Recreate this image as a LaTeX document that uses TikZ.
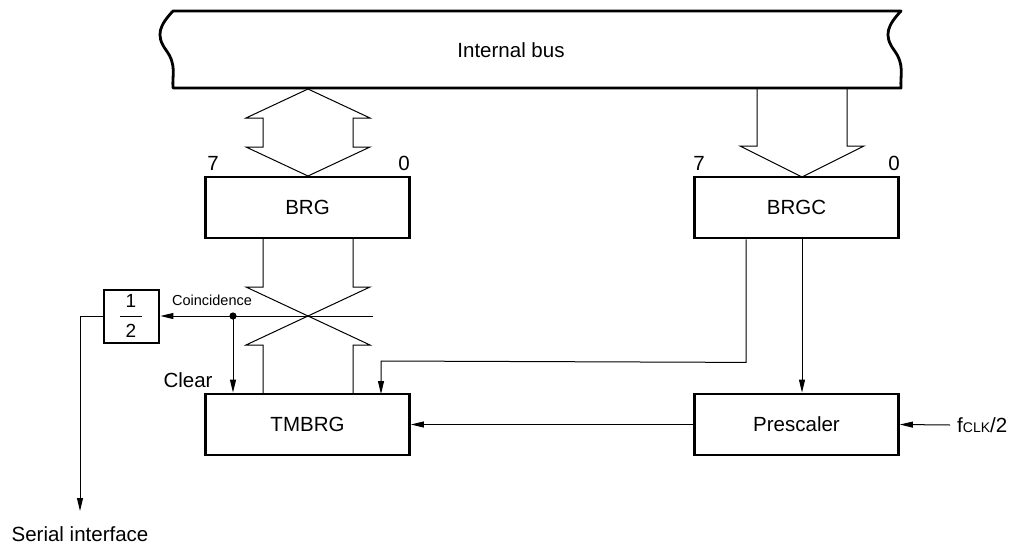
\documentclass[tikz,border=0pt]{standalone}
\usepackage{fontspec}
\setmainfont{Liberation Sans}
\usetikzlibrary{arrows.meta,calc}
\begin{document}
\begin{tikzpicture}[x=1pt,y=-1pt,
  box/.style={draw,line width=2.8pt,minimum width=204pt,minimum height=61pt,inner sep=0pt,font=\fontsize{20.5}{24}\selectfont},
  thinline/.style={line width=1pt},
  arr/.style={thinline,-{Triangle[length=13pt,width=6pt]}},
  lbl/.style={inner sep=0pt,font=\fontsize{20.5}{24}\selectfont},
  small/.style={inner sep=0pt,font=\fontsize{14.5}{16}\selectfont},
  ]
\useasboundingbox (0,0) rectangle (1012,544);

% internal bus
\draw[line width=2.8pt,line join=round]
  (173,11) -- (901,11)
  .. controls (888,25) and (883,35) .. (894,50)
  .. controls (905,65) and (900,75) .. (901,88)
  -- (173,88)
  .. controls (172,75) and (177,65) .. (166,50)
  .. controls (155,35) and (160,25) .. (173,11) -- cycle;
\node[lbl] (bus) at (511,50) {Internal bus};

% boxes
\node[box] (brg) at (307.5,207.5) {BRG};
\node[box] (brgc) at (796.5,207.5) {BRGC};
\node[box] (tmbrg) at (307.5,424.5) {TMBRG};
\node[box] (pre) at (796.5,424.5) {Prescaler};
\node[draw,line width=2.8pt,minimum width=55pt,minimum height=53pt,inner sep=0pt] (half) at (131.5,316.5) {};
\node[lbl,font=\fontsize{19}{20}\selectfont] (one) at (131,301) {1};
\node[lbl,font=\fontsize{19}{20}\selectfont] (two) at (131,331) {2};
\draw[line width=1.2pt] (120,316.5) -- (142,316.5);

% bit numbers
\node[lbl] (b7a) at (213,163) {7};
\node[lbl] (b0a) at (404,163) {0};
\node[lbl] (b7b) at (699,163) {7};
\node[lbl] (b0b) at (894,163) {0};

% hollow bus arrows
\draw[thinline,line join=miter]
  (308,89) -- (370,118) -- (353,118) -- (353,147) -- (370,147) -- (308,176)
  -- (246,147) -- (263,147) -- (263,118) -- (246,118) -- cycle;
\draw[thinline,line join=miter]
  (757,89) -- (757,146) -- (740,146) -- (802,177) -- (864,146) -- (847,146) -- (847,89);

% crossing between BRG and TMBRG
\draw[thinline,line join=miter] (263,238) -- (263,287) -- (246,287) -- (370,345) -- (353,345) -- (353,394);
\draw[thinline,line join=miter] (353,238) -- (353,287) -- (370,287) -- (246,345) -- (263,345) -- (263,394);

% coincidence
\coordinate (cend) at (373,316);
\coordinate (dot) at (233,316);
\draw[arr] (cend) -- (half.east |- cend);
\fill (dot) circle (3.6pt);
\draw[arr] (dot) -- (dot |- tmbrg.north);
\node[small] (coin) at (212,300) {Coincidence};
\node[lbl] (clear) at (188,380) {Clear};

% to serial interface
\coordinate (ser) at (80,511);
\draw[arr] (half.west |- cend) -- (80,316) -- (ser);
\node[lbl] (serial) at (80,534) {Serial interface};

% BRGC connections
\draw[arr] ([xshift=-50.5pt]brgc.south) -- ++(0,123) -- (381,361) -- (381,394);
\draw[arr] ([xshift=5.5pt]brgc.south) -- ([xshift=5.5pt]pre.north);
\draw[arr] (pre.west) -- (tmbrg.east);

% fclk
\node[lbl,anchor=west] (fclk) at (957,425) {f{\fontsize{14}{16}\selectfont CLK}/2};
\draw[arr] ([xshift=-7pt]fclk.west) -- (pre.east);
\end{tikzpicture}
\end{document}
